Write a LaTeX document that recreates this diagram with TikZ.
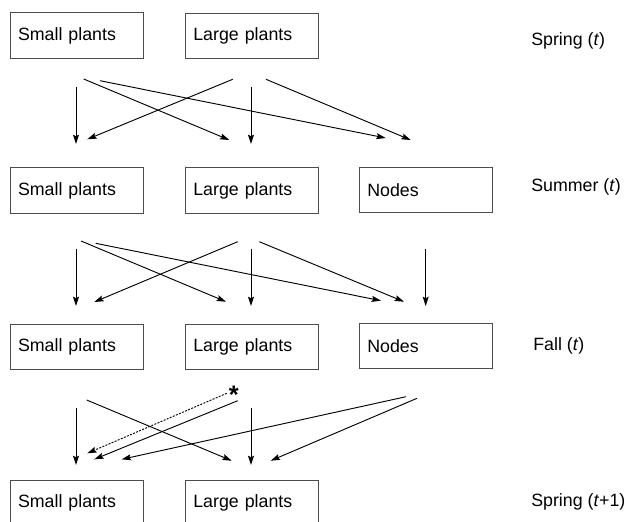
\documentclass[tikz,border=0pt]{standalone}
\usepackage{fontspec}
\setmainfont{Liberation Sans}
\usetikzlibrary{arrows.meta}

\tikzset{
  stagebox/.style={draw=black!70, line width=0.75pt, text width=88pt, inner xsep=6pt, inner ysep=0pt,
    minimum height=34.2pt, align=left, font=\fontsize{13.35}{16}\selectfont},
  seasonlabel/.style={anchor=base west, inner sep=0pt, font=\fontsize{13.35}{16}\selectfont},
  flow/.style={line width=0.7pt, -{Stealth[length=7pt,width=4.5pt,inset=1.2pt]}},
  dotflow/.style={flow, dash pattern=on 1.5pt off 1pt},
}

\begin{document}
\begin{tikzpicture}[x=0.75pt,y=0.75pt,yscale=-1,xscale=1]
\useasboundingbox (0,0) rectangle (630,521);
\clip (0,0) rectangle (630,521);

% Boxes
\node[stagebox] (small1) at (76.7,35.5) {Small plants};
\node[stagebox] (large1) at (252,35.8) {Large plants};
\node[stagebox] (small2) at (76.7,190.5) {Small plants};
\node[stagebox] (large2) at (252,190.5) {Large plants};
\node[stagebox] (nodes2) at (426,190) {Nodes};
\node[stagebox] (small3) at (76.7,346.8) {Small plants};
\node[stagebox] (large3) at (252,347) {Large plants};
\node[stagebox] (nodes3) at (426,346) {Nodes};
\node[stagebox] (small4) at (76.7,502.8) {Small plants};
\node[stagebox] (large4) at (252,502.8) {Large plants};

% Season labels
\node[seasonlabel] (spring1) at (531,45) {Spring (\textit{t})};
\node[seasonlabel] (summer) at (531,191.7) {Summer (\textit{t})};
\node[seasonlabel] (fall) at (533,350) {Fall (\textit{t})};
\node[seasonlabel] (spring2) at (531,506.4) {Spring (\textit{t}+1)};

% Spring -> summer
\coordinate (ss1a) at (76,87.3);    \coordinate (ss1b) at (76,144);
\coordinate (sl1a) at (83.7,79);    \coordinate (sl1b) at (229.3,140);
\coordinate (sn1a) at (100,80.7);   \coordinate (sn1b) at (385.7,138);
\coordinate (ls1a) at (232.7,79.3); \coordinate (ls1b) at (87.3,139.3);
\coordinate (ll1a) at (251,87.3);   \coordinate (ll1b) at (251,144);
\coordinate (ln1a) at (266,79.3);   \coordinate (ln1b) at (410.7,140);
\draw[flow] (ss1a) -- (ss1b);
\draw[flow] (sl1a) -- (sl1b);
\draw[flow] (sn1a) -- (sn1b);
\draw[flow] (ls1a) -- (ls1b);
\draw[flow] (ll1a) -- (ll1b);
\draw[flow] (ln1a) -- (ln1b);

% Summer -> fall
\coordinate (ss2a) at (76,249.3);    \coordinate (ss2b) at (76,306);
\coordinate (sl2a) at (81,241);      \coordinate (sl2b) at (226,301.7);
\coordinate (sn2a) at (95.7,243.3);  \coordinate (sn2b) at (381,300.7);
\coordinate (ls2a) at (237.7,241.7); \coordinate (ls2b) at (94.3,302);
\coordinate (ll2a) at (251,249.3);   \coordinate (ll2b) at (251,306);
\coordinate (ln2a) at (259.3,241.7); \coordinate (ln2b) at (404,301.7);
\coordinate (nn2a) at (425.7,249.3); \coordinate (nn2b) at (425.7,306);
\draw[flow] (ss2a) -- (ss2b);
\draw[flow] (sl2a) -- (sl2b);
\draw[flow] (sn2a) -- (sn2b);
\draw[flow] (ls2a) -- (ls2b);
\draw[flow] (ll2a) -- (ll2b);
\draw[flow] (ln2a) -- (ln2b);
\draw[flow] (nn2a) -- (nn2b);

% Fall -> spring
\node[seasonlabel, anchor=base, font=\fontsize{19}{20}\selectfont\bfseries] (star) at (233.7,403.5) {*};
\coordinate (ss3a) at (76,408.3);    \coordinate (ss3b) at (76,465);
\coordinate (sl3a) at (86.7,400);    \coordinate (sl3b) at (231.7,460.7);
\coordinate (ds3a) at (226.7,393.3); \coordinate (ds3b) at (87.3,453.3);
\coordinate (ls3a) at (237.7,400.7); \coordinate (ls3b) at (94.3,459.3);
\coordinate (ll3a) at (251,408.3);   \coordinate (ll3b) at (251,465);
\coordinate (ns3a) at (406,396.7);   \coordinate (ns3b) at (121.7,459.3);
\coordinate (nl3a) at (417,398.3);   \coordinate (nl3b) at (270.7,460.7);
\draw[flow] (ss3a) -- (ss3b);
\draw[flow] (sl3a) -- (sl3b);
\draw[dotflow] (ds3a) -- (ds3b);
\draw[flow] (ls3a) -- (ls3b);
\draw[flow] (ll3a) -- (ll3b);
\draw[flow] (ns3a) -- (ns3b);
\draw[flow] (nl3a) -- (nl3b);

\end{tikzpicture}
\end{document}
